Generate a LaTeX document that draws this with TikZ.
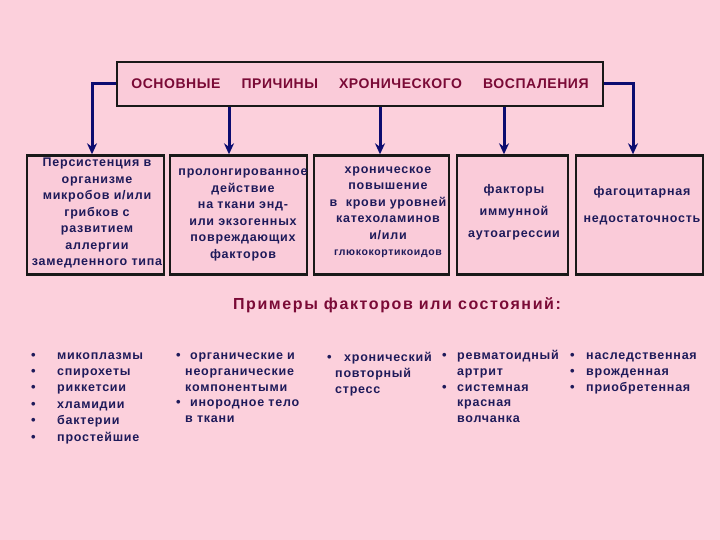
\documentclass[tikz,border=0pt]{standalone}
\usepackage{fontspec}
\setmainfont{Liberation Sans}
\usetikzlibrary{arrows.meta}
\definecolor{bgpink}{HTML}{FCD0DC}
\definecolor{boxpink}{HTML}{FACBD9}
\definecolor{titlered}{HTML}{7A0A36}
\definecolor{navytext}{HTML}{1E1A5A}
\definecolor{arrownavy}{HTML}{0C0C70}
\newcommand\myboxfont[2]{\bfseries\fontsize{#1}{#2}\selectfont\addfontfeatures{LetterSpace=6}}
\begin{document}
\begin{tikzpicture}[x=1pt,y=-1pt,
  cbox/.style={draw=black!90, line width=2.4pt, fill=boxpink, inner sep=0pt},
  btext/.style={text=navytext, font=\myboxfont{12.5}{16.5}, align=center, inner sep=0pt},
  arr/.style={draw=arrownavy, line width=3pt, -{Stealth[length=11pt,width=10pt]}},
  li/.style={text=navytext, font=\myboxfont{12.5}{14}, anchor=base west, inner sep=0pt},
  bul/.style={text=navytext, font=\bfseries\fontsize{13}{13}\selectfont, anchor=base west, inner sep=0pt}
]
\useasboundingbox (0,0) rectangle (720,540);
\fill[bgpink] (0,0) rectangle (720,540);

% title
\node[cbox, minimum width=486pt, minimum height=44pt] (title) at (360,84) {};
\node[text=titlered, font=\bfseries\fontsize{14}{16}\selectfont\addfontfeatures{LetterSpace=4}, inner sep=0pt] (ttext) at (360,84)
  {ОСНОВНЫЕ\hspace{21pt}ПРИЧИНЫ\hspace{21pt}ХРОНИЧЕСКОГО\hspace{21pt}ВОСПАЛЕНИЯ};

% row boxes
\node[cbox, minimum width=137pt, minimum height=119pt] (b1) at (95.5,215) {};
\node[cbox, minimum width=137pt, minimum height=119pt] (b2) at (238.5,215) {};
\node[cbox, minimum width=135pt, minimum height=119pt] (b3) at (381.5,215) {};
\node[cbox, minimum width=111pt, minimum height=119pt] (b4) at (512.5,215) {};
\node[cbox, minimum width=127pt, minimum height=119pt] (b5) at (639.5,215) {};

\node[btext] (t1) at (97,213) {Персистенция в\\организме\\микробов и/или\\грибков с\\развитием\\аллергии\\замедленного типа};
\node[btext] (t2) at (243,215) {пролонгированное\\действие\\на ткани энд-\\или экзогенных\\повреждающих\\факторов};
\node[btext] (t3) at (388,212)
  {хроническое\\повышение\\в\ \ крови уровней\\катехоламинов\\и/или\\{\myboxfont{10.5}{12}глюкокортикоидов}};
\node[btext, font=\myboxfont{12.5}{22}] (t4) at (514,212) {факторы\\иммунной\\аутоагрессии};
\node[btext, font=\myboxfont{12.5}{27}] (t5) at (642,206) {фагоцитарная\\недостаточность};

% arrows
\draw[arr] (title.west) -| ([xshift=-3.5pt]b1.north);
\draw[arr] (title.east) -| ([xshift=-6.5pt]b5.north);
\draw[arr] ([xshift=-9.5pt]b2.north |- title.south) -- ([xshift=-9.5pt]b2.north);
\draw[arr] ([xshift=-1.5pt]b3.north |- title.south) -- ([xshift=-1.5pt]b3.north);
\draw[arr] ([xshift=-8.5pt]b4.north |- title.south) -- ([xshift=-8.5pt]b4.north);

% subheading
\node[text=titlered, font=\bfseries\fontsize{16}{18}\selectfont\addfontfeatures{LetterSpace=10}, inner sep=0pt] (sub) at (397,305)
  {Примеры факторов или состояний:};

% column 1
\foreach \t [count=\i] in {микоплазмы,спирохеты,риккетсии,хламидии,бактерии,простейшие}{
  \node[bul] (c1b\i) at (31,{359+16.4*(\i-1)}) {•};
  \node[li] (c1t\i) at (57,{359+16.4*(\i-1)}) {\t};
}
% column 2
\node[bul] (c2b1) at (176,359) {•};
\node[li] (c2t1) at (190,359) {органические и};
\node[li] (c2t2) at (185,375) {неорганические};
\node[li] (c2t3) at (185,391) {компонентыми};
\node[bul] (c2b2) at (176,406) {•};
\node[li] (c2t4) at (190,406) {инородное тело};
\node[li] (c2t5) at (185,422) {в ткани};
% column 3
\node[bul] (c3b1) at (327,361) {•};
\node[li] (c3t1) at (344,361) {хронический};
\node[li] (c3t2) at (335,377) {повторный};
\node[li] (c3t3) at (335,393) {стресс};
% column 4
\node[bul] (c4b1) at (442,359) {•};
\node[li] (c4t1) at (457,359) {ревматоидный};
\node[li] (c4t2) at (457,375) {артрит};
\node[bul] (c4b2) at (442,391) {•};
\node[li] (c4t3) at (457,391) {системная};
\node[li] (c4t4) at (457,406) {красная};
\node[li] (c4t5) at (457,422) {волчанка};
% column 5
\node[bul] (c5b1) at (570,359) {•};
\node[li] (c5t1) at (586,359) {наследственная};
\node[bul] (c5b2) at (570,375) {•};
\node[li] (c5t2) at (586,375) {врожденная};
\node[bul] (c5b3) at (570,391) {•};
\node[li] (c5t3) at (586,391) {приобретенная};
\end{tikzpicture}
\end{document}
